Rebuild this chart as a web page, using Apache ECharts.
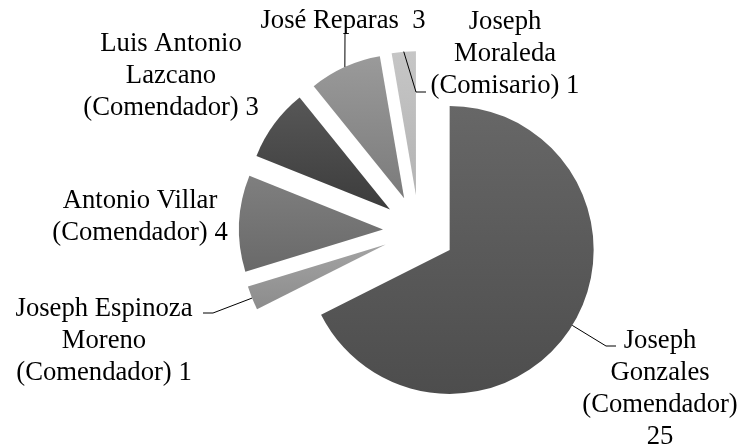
<!DOCTYPE html>
<html>
<head>
<meta charset="utf-8">
<script src="https://cdn.jsdelivr.net/npm/echarts@6/dist/echarts.min.js"></script>
<style>
    html, body { margin: 0; padding: 0; background: #fff; }
    #chart { width: 740px; height: 446px; }
</style>
</head>
<body>
<div id="chart"></div>
<script>
    // slice data, clockwise from 12 o'clock
    var names = [
        'Joseph Gonzales (Comendador)',
        'Joseph Espinoza Moreno (Comendador)',
        'Antonio Villar (Comendador)',
        'Luis Antonio Lazcano (Comendador)',
        'José Reparas',
        'Joseph Moraleda (Comisario)'
    ];
    var values = [25, 1, 4, 3, 3, 1];

    // how each label is broken into lines
    var labelFormats = [
        'Joseph\nGonzales\n(Comendador)\n{v}',
        'Joseph Espinoza\nMoreno\n(Comendador) {v}',
        'Antonio Villar\n(Comendador) {v}',
        'Luis Antonio\nLazcano\n(Comendador) {v}',
        'José Reparas  {v}',
        'Joseph\nMoraleda\n(Comisario) {v}'
    ];

    // grey fills, top / bottom of each slice
    var topColors = ['#676767', '#a3a3a3', '#7f7f7f', '#575757', '#9a9a9a', '#c6c6c6'];
    var bottomColors = ['#4d4d4d', '#8c8c8c', '#696969', '#3c3c3c', '#7b7b7b', '#b3b3b3'];

    // label centres and leader line bends
    var labelPos = [[660, 389], [104, 341], [140, 217], [171, 76], [343, 21], [505, 54]];
    var leaderBends = [
        [[606, 346], [616, 346]],
        [[213, 313], [203, 313]],
        null,
        null,
        [[345, 33]],
        [[416, 92], [426, 92]]
    ];

    var pieCenter = [419, 231];
    var pieRadius = 144;
    var explode = 36;

    var chart = echarts.init(document.getElementById('chart'), null, {renderer: 'canvas'});

    var sliceData = names.map(function (n, i) {
        return {
            name: n,
            value: values[i],
            selected: true,
            itemStyle: {
                color: new echarts.graphic.LinearGradient(0, 0, 0, 1, [
                    {offset: 0, color: topColors[i]},
                    {offset: 1, color: bottomColors[i]}
                ])
            }
        };
    });

    // invisible twin of the pie that only carries the labels
    var labelData = names.map(function (n, i) {
        return {
            name: n,
            value: values[i],
            labelLine: {show: leaderBends[i] != null}
        };
    });

    var option = {
        animation: false,
        series: [
            {
                type: 'pie',
                z: 2,
                center: pieCenter,
                radius: pieRadius,
                startAngle: 90,
                clockwise: true,
                selectedMode: 'multiple',
                selectedOffset: explode,
                silent: true,
                emphasis: {disabled: true},
                label: {show: false},
                labelLine: {show: false},
                itemStyle: {borderWidth: 0},
                data: sliceData
            },
            {
                type: 'pie',
                z: 5,
                center: pieCenter,
                radius: pieRadius,
                startAngle: 90,
                clockwise: true,
                silent: true,
                emphasis: {disabled: true},
                itemStyle: {color: 'rgba(0,0,0,0)', borderWidth: 0},
                label: {
                    show: true,
                    position: 'outside',
                    fontFamily: 'Liberation Serif',
                    fontSize: 26.67,
                    lineHeight: 32,
                    color: '#000',
                    align: 'center',
                    overflow: 'none',
                    formatter: function (p) {
                        return labelFormats[p.dataIndex].replace('{v}', p.value);
                    }
                },
                labelLine: {
                    show: true,
                    minTurnAngle: 0,
                    maxSurfaceAngle: 180,
                    lineStyle: {color: '#000', width: 1}
                },
                labelLayout: function (params) {
                    var i = params.dataIndex;
                    var res = {
                        x: labelPos[i][0],
                        y: labelPos[i][1],
                        align: 'center',
                        verticalAlign: 'middle'
                    };
                    if (leaderBends[i] && params.labelLinePoints) {
                        // push the arc point out by the explode offset
                        var p0 = params.labelLinePoints[0];
                        var dx = p0[0] - pieCenter[0];
                        var dy = p0[1] - pieCenter[1];
                        var len = Math.sqrt(dx * dx + dy * dy) || 1;
                        var start = [p0[0] + dx / len * explode, p0[1] + dy / len * explode];
                        res.labelLinePoints = [start].concat(leaderBends[i]);
                    }
                    return res;
                },
                data: labelData
            }
        ]
    };

    chart.setOption(option);
</script>
</body>
</html>
